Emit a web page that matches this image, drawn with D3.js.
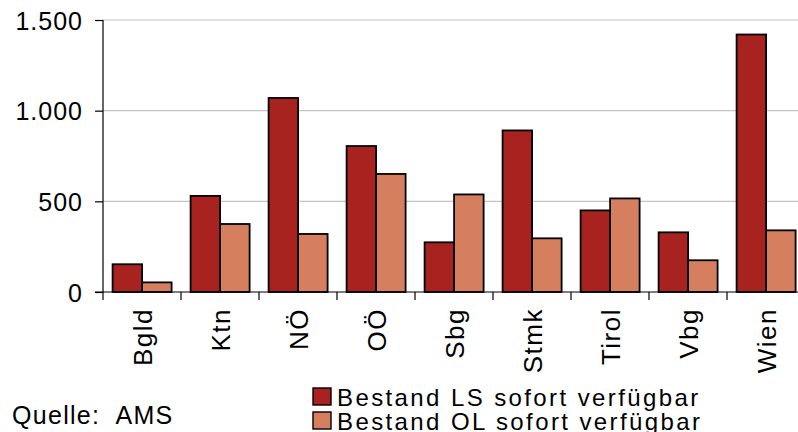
<!DOCTYPE html>
<html>
<head>
<meta charset="utf-8">
<script src="https://cdn.jsdelivr.net/npm/d3@7"></script>
<style>
body { margin: 0; background: #fff; }
svg text { font-family: "Liberation Sans", Arial, sans-serif; fill: #000; }
</style>
</head>
<body>
<svg id="chart" width="798" height="432"></svg>
<script>
var categories = ["Bgld", "Ktn", "NÖ", "OÖ", "Sbg", "Stmk", "Tirol", "Vbg", "Wien"];
var seriesNames = ["Bestand LS sofort verfügbar", "Bestand OL sofort verfügbar"];
var lsValues = [153, 530, 1070, 805, 274, 891, 450, 329, 1420];
var olValues = [53, 375, 320, 651, 538, 296, 516, 175, 340];
var yTicks = [0, 500, 1000, 1500];
var colors = ["#a8231f", "#d67f5e"];

var svg = d3.select("#chart");
var pLeft = 103, pRight = 805, pTop = 20, pBottom = 292;

var x0 = d3.scaleBand().domain(categories).range([pLeft, pRight]);
var x1 = d3.scaleBand().domain([0, 1]).range([9.6, 68.6]);
var y = d3.scaleLinear().domain([0, 1500]).range([pBottom, pTop]);

var fmt = function(v) { return d3.format(",")(v).replace(/,/g, "."); };

// gridlines
svg.append("g")
.selectAll("line")
.data(yTicks.filter(function(d) { return d > 0; }))
.enter().append("line")
.attr("x1", pLeft).attr("x2", 798)
.attr("y1", function(d) { return y(d); })
.attr("y2", function(d) { return y(d); })
.attr("stroke", "#c4c4c4").attr("stroke-width", 1.2);

// bars
var rows = categories.map(function(c, i) { return { cat: c, vals: [lsValues[i], olValues[i]] }; });
var groups = svg.append("g").selectAll("g")
.data(rows)
.enter().append("g")
.attr("transform", function(d) { return "translate(" + x0(d.cat) + ",0)"; });

groups.selectAll("rect")
.data(function(d) { return d.vals.map(function(v, j) { return { v: v, j: j }; }); })
.enter().append("rect")
.attr("x", function(d) { return x1(d.j); })
.attr("width", x1.bandwidth())
.attr("y", function(d) { return y(d.v); })
.attr("height", function(d) { return pBottom - y(d.v); })
.attr("fill", function(d) { return colors[d.j]; })
.attr("stroke", "#000").attr("stroke-width", 1.8);

// y axis
var yAxis = d3.axisLeft(y).tickValues(yTicks).tickFormat(fmt).tickSize(8).tickPadding(12);
var ya = svg.append("g").attr("transform", "translate(" + pLeft + ",0)").call(yAxis);
ya.select(".domain").attr("stroke", "#000").attr("stroke-width", 1.2).attr("d", "M0," + pTop + "V" + pBottom);
ya.selectAll(".tick line").attr("stroke", "#000").attr("stroke-width", 1.2);
ya.selectAll("text").style("font-size", "25px").style("letter-spacing", "1px")
.style("font-family", "'Liberation Sans', Arial, sans-serif").attr("dy", "0.36em");

// x axis
var xAxis = d3.axisBottom(x0).tickSize(0).tickFormat("");
var xa = svg.append("g").attr("transform", "translate(0," + pBottom + ")").call(xAxis);
xa.select(".domain").attr("stroke", "#000").attr("stroke-width", 1.2).attr("d", "M" + (pLeft - 8) + ",0H798");
xa.selectAll(".tick").remove();

svg.append("g").selectAll("line")
.data(categories.concat(["end"]))
.enter().append("line")
.attr("x1", function(d, i) { return pLeft + i * x0.step(); })
.attr("x2", function(d, i) { return pLeft + i * x0.step(); })
.attr("y1", pBottom).attr("y2", pBottom + 8)
.attr("stroke", "#000").attr("stroke-width", 1.2);

svg.append("g").selectAll("text")
.data(categories)
.enter().append("text")
.attr("transform", function(d) {
    return "translate(" + (x0(d) + x0.bandwidth() / 2 + 10) + ",308) rotate(-90)";
})
.attr("text-anchor", "end")
.style("font-size", "26px")
.style("letter-spacing", "1.5px")
.text(function(d) { return d; });

// legend
var leg = svg.append("g").attr("transform", "translate(313,388)");
seriesNames.forEach(function(n, i) {
    leg.append("rect").attr("x", 0).attr("y", i * 24).attr("width", 18).attr("height", 17)
    .attr("fill", colors[i]).attr("stroke", "#000").attr("stroke-width", 1.4);
    leg.append("text").attr("x", 24).attr("y", i * 24 + 17.5)
    .style("font-size", "24px").style("letter-spacing", "2.4px").text(n);
});

// source
svg.append("text").attr("x", 12).attr("y", 424)
.style("font-size", "25px").style("letter-spacing", "1.3px").text("Quelle:\u00a0 AMS");
</script>
</body>
</html>
